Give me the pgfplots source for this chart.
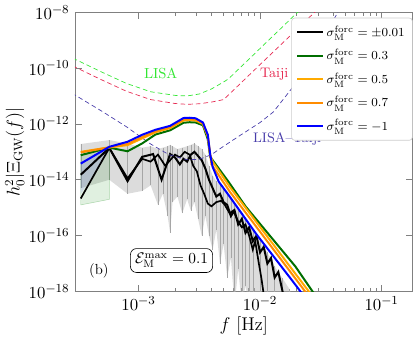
\documentclass[border=0pt]{standalone}
\usepackage{pgfplots}
\usepackage{pgfplotstable}
\pgfplotsset{compat=1.18}
\usepgfplotslibrary{fillbetween}
\definecolor{lisag}{RGB}{50,230,50}
\definecolor{taijir}{RGB}{230,40,80}
\definecolor{ltb}{RGB}{72,61,170}
\definecolor{sgreen}{RGB}{0,110,0}
\definecolor{sorangeA}{RGB}{255,170,0}
\definecolor{sorangeB}{RGB}{255,140,0}
\definecolor{sblue}{RGB}{0,0,255}
\pgfplotsset{/pgfplots/table/lg/.style={x expr=10^(\thisrow{lf}), y expr=10^(\thisrow{ly})}}

% all tables: lf = log10 f, ly = log10 of h0^2 |Xi_GW|
\pgfplotstableread{
lf ly
-3.6 -9.55
-3.525 -9.68
-3.3 -10.15
-3.1 -10.55
-2.9 -10.85
-2.7 -10.98
-2.6 -11.00
-2.5 -10.93
-2.4 -10.75
-2.3 -10.50
-2.26 -10.39
-1.69 -8.0
-1.6 -7.6
}\lisa
\pgfplotstableread{
lf ly
-3.6 -9.83
-3.525 -9.96
-3.3 -10.43
-3.1 -10.83
-2.9 -11.13
-2.7 -11.27
-2.6 -11.30
-2.5 -11.28
-2.4 -11.22
-2.3 -11.13
-1.55 -8.0
-1.45 -7.6
}\taiji
\pgfplotstableread{
lf ly
-3.6 -10.75
-3.525 -10.96
-3.3 -11.55
-3.1 -12.10
-2.9 -12.72
-2.75 -13.10
-2.6 -13.28
-2.5 -13.27
-2.4 -13.10
-2.3 -12.80
-2.16 -12.40
-2.0 -11.95
-1.89 -11.57
-1.73 -10.68
-1.6 -9.85
-1.5 -9.10
-1.36 -8.0
-1.3 -7.6
}\lisataiji
\pgfplotstableread{
lf ly
-3.475 -13.12
-3.24 -12.85
-3.09 -12.98
-2.97 -12.70
-2.86 -12.38
-2.74 -12.23
-2.63 -11.96
-2.58 -11.94
-2.53 -11.95
-2.47 -12.05
-2.43 -12.55
-2.41 -13.18
-2.26 -14.07
-2.12 -14.95
-1.71 -17.10
-1.56 -18.05
}\sgA
\pgfplotstableread{
lf ly
-3.475 -13.00
-3.24 -12.84
-3.09 -12.76
-2.97 -12.52
-2.86 -12.30
-2.74 -12.15
-2.63 -11.88
-2.58 -11.86
-2.53 -11.88
-2.47 -12.00
-2.43 -12.45
-2.41 -13.12
-2.39 -13.35
-2.25 -14.25
-1.59 -18.05
}\sgB
\pgfplotstableread{
lf ly
-3.475 -13.02
-3.24 -12.84
-3.09 -12.72
-2.97 -12.47
-2.86 -12.27
-2.74 -12.12
-2.63 -11.85
-2.58 -11.83
-2.53 -11.85
-2.47 -11.98
-2.43 -12.42
-2.41 -13.12
-2.40 -13.45
-2.25 -14.42
-1.62 -18.05
}\sgC
\pgfplotstableread{
lf ly
-3.475 -13.42
-3.24 -12.82
-3.09 -12.64
-2.97 -12.39
-2.86 -12.21
-2.74 -12.07
-2.63 -11.79
-2.58 -11.78
-2.53 -11.80
-2.47 -11.95
-2.43 -12.39
-2.41 -13.10
-2.39 -13.54
-2.34 -14.07
-2.25 -14.60
-2.03 -15.95
-1.73 -17.64
-1.65 -18.10
}\sgD
\pgfplotstableread{
lf ly
-3.475 -13.82
-3.24 -12.86
-3.09 -14.05
-2.97 -13.18
-2.88 -13.08
-2.81 -14.00
-2.74 -13.08
-2.70 -13.20
-2.66 -13.45
-2.63 -13.25
-2.60 -13.35
-2.57 -13.10
-2.54 -13.00
-2.51 -13.15
-2.48 -13.30
-2.45 -13.60
-2.42 -14.00
-2.39 -14.30
-2.36 -14.60
-2.33 -14.50
-2.30 -14.80
-2.27 -14.90
-2.24 -15.30
-2.21 -15.10
-2.18 -15.60
-2.15 -15.40
-2.12 -15.90
-2.09 -15.70
-2.06 -16.20
-2.03 -16.00
-2.00 -16.60
-1.97 -16.40
-1.94 -17.00
-1.91 -16.80
-1.88 -17.50
-1.85 -17.30
-1.81 -18.10
}\sgEa
\pgfplotstableread{
lf ly
-3.475 -14.67
-3.24 -12.86
-3.09 -13.95
-2.97 -13.25
-2.90 -13.35
-2.84 -13.10
-2.78 -13.50
-2.74 -13.30
-2.70 -13.10
-2.66 -13.20
-2.62 -13.00
-2.58 -13.10
-2.55 -13.50
-2.52 -13.70
-2.49 -14.20
-2.46 -14.50
-2.43 -14.85
-2.40 -14.95
-2.36 -14.80
-2.32 -14.75
-2.29 -14.90
-2.25 -15.20
-2.22 -15.10
-2.18 -15.50
-2.15 -15.70
-2.12 -15.60
-2.09 -16.00
-2.06 -16.50
-2.04 -16.20
-2.01 -17.00
-1.99 -17.50
-1.97 -18.10
}\sgEb
% band of the +-0.01 runs: u = upper, l = lower
\pgfplotstableread{
lf u l
-3.475 -12.72 -14.30
-3.24 -12.58 -14.00
-3.09 -12.70 -14.50
-2.97 -12.85 -14.40
-2.90 -12.80 -14.20
-2.84 -12.90 -14.90
-2.80 -12.85 -14.50
-2.76 -12.80 -15.30
-2.74 -12.75 -15.90
-2.72 -12.80 -14.80
-2.68 -12.90 -14.60
-2.64 -12.85 -15.20
-2.60 -12.80 -14.70
-2.57 -12.75 -15.10
-2.54 -12.70 -14.80
-2.51 -12.80 -15.40
-2.48 -12.90 -16.00
-2.45 -13.10 -15.30
-2.42 -13.50 -16.00
-2.39 -13.85 -16.50
-2.36 -14.05 -15.80
-2.33 -14.20 -17.00
-2.30 -14.30 -16.30
-2.27 -14.50 -17.50
-2.24 -14.70 -16.80
-2.21 -14.85 -18.50
-2.18 -15.00 -17.20
-2.15 -15.20 -18.50
-2.12 -15.40 -17.80
-2.09 -15.60 -18.50
-2.06 -15.80 -18.50
-2.00 -16.20 -18.50
-1.94 -16.60 -18.50
-1.88 -17.10 -18.50
-1.82 -17.50 -18.50
-1.76 -17.90 -18.50
-1.72 -18.30 -18.50
}\band

\begin{document}
\begin{tikzpicture}
\begin{axis}[
  scale only axis, width=220pt, height=182pt,
  xmode=log, ymode=log,
  xmin=3e-4, xmax=0.18, ymin=1e-18, ymax=1e-8,
  xtick={1e-3,1e-2,1e-1},
  ytick={1e-18,1e-16,1e-14,1e-12,1e-10,1e-8},
  yminorticks=false,
  major tick length=4.5pt, minor tick length=2.5pt,
  axis line style={gray}, every tick/.style={gray},
  tick label style={font=\fontsize{11}{12}\selectfont},
  label style={font=\fontsize{12}{14}\selectfont},
  xlabel={$f~[{\rm Hz}]$}, ylabel={$h_0^2|\Xi_{\rm GW}(f)|$},
  xlabel style={yshift=3pt}, ylabel style={yshift=-4pt},
  legend cell align=left,
  legend style={at={(1,0.98)}, anchor=north east, draw=gray!40, rounded corners=2pt,
    fill=white, font=\fontsize{8}{10}\selectfont, row sep=2.8pt, inner xsep=3pt, inner ysep=3pt},
  legend image code/.code={\draw[#1] (0cm,0cm) -- (0.58cm,0cm);},
  clip=true,
]
% shaded bands
\addplot[name path=bu, draw=none, forget plot] table[x expr=10^(\thisrow{lf}), y expr=10^(\thisrow{u})] {\band};
\addplot[name path=bl, draw=none, forget plot] table[x expr=10^(\thisrow{lf}), y expr=10^(\thisrow{l})] {\band};
\addplot[gray!60, opacity=0.45, forget plot] fill between[of=bu and bl];
\addplot[draw=none, forget plot, error bars/.cd, y dir=minus, y explicit, error mark=none,
  error bar style={draw=gray!70, solid, line width=0.25pt}]
  table[x expr=10^(\thisrow{lf}), y expr=10^(\thisrow{u}), y error minus expr=10^(\thisrow{u})-10^(\thisrow{l})] {\band};
\addplot[fill=green!50!black, fill opacity=0.12, draw=green!50!black, draw opacity=0.3, line width=0.3pt, forget plot]
  table[lg] {
lf ly
-3.475 -13.10
-3.24 -12.82
-3.24 -14.70
-3.475 -14.90
} -- cycle;
\addplot[fill=blue!60, fill opacity=0.15, draw=none, forget plot]
  table[lg] {
lf ly
-3.475 -13.35
-3.24 -12.85
-3.24 -12.95
-3.475 -14.50
} -- cycle;
% black runs
\addplot[black, line width=1.3pt] table[lg] {\sgEa};
\addlegendentry{$\sigma_{\rm M}^{\rm forc}=\pm0.01$}
\addplot[black, line width=1.1pt, forget plot] table[lg] {\sgEb};
% sensitivity curves
\addplot[lisag, densely dashed, line width=0.45pt, forget plot] table[lg] {\lisa};
\addplot[taijir, densely dashed, line width=0.45pt, forget plot] table[lg] {\taiji};
\addplot[ltb, densely dashed, line width=0.45pt, forget plot] table[lg] {\lisataiji};
% coloured runs
\addplot[sgreen, line width=1.3pt] table[lg] {\sgA};
\addlegendentry{$\sigma_{\rm M}^{\rm forc}=0.3$}
\addplot[sorangeA, line width=1.3pt] table[lg] {\sgB};
\addlegendentry{$\sigma_{\rm M}^{\rm forc}=0.5$}
\addplot[sorangeB, line width=1.3pt] table[lg] {\sgC};
\addlegendentry{$\sigma_{\rm M}^{\rm forc}=0.7$}
\addplot[sblue, line width=1.3pt] table[lg] {\sgD};
\addlegendentry{$\sigma_{\rm M}^{\rm forc}=-1$}
% labels
\node[lisag, font=\fontsize{9.5}{11}\selectfont] at (rel axis cs:0.254,0.782) {LISA};
\node[taijir, font=\fontsize{9}{11}\selectfont] at (rel axis cs:0.590,0.779) {Taiji};
\node[ltb, font=\fontsize{9}{11}\selectfont] at (rel axis cs:0.628,0.546) {LISA--Taiji};
\node[font=\fontsize{9.5}{10}\selectfont] at (rel axis cs:0.071,0.075) {(b)};
\node[draw, rounded corners=4pt, fill=white, inner sep=3pt, font=\fontsize{10}{12}\selectfont]
  at (rel axis cs:0.286,0.111) {$\mathcal{E}_{\rm M}^{\rm max}=0.1$};
\end{axis}
\end{tikzpicture}
\end{document}
